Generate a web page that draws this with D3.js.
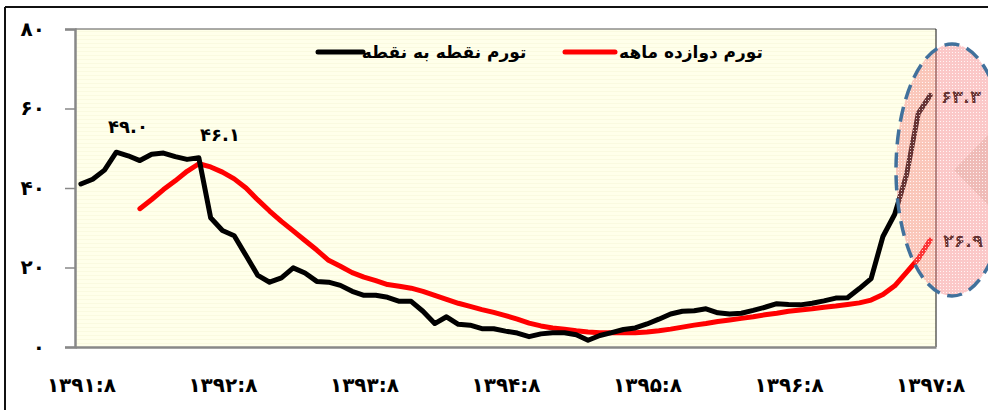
<!DOCTYPE html>
<html><head><meta charset="utf-8">
<script src="https://cdn.jsdelivr.net/npm/d3@7"></script>
<style>body{margin:0;background:#fff}svg{display:block}</style>
</head><body>
<svg id="c" width="988" height="410"></svg>
<script>
const months = [
"1391:8","1391:9","1391:10","1391:11","1391:12",
"1392:1","1392:2","1392:3","1392:4","1392:5","1392:6","1392:7","1392:8","1392:9","1392:10","1392:11","1392:12",
"1393:1","1393:2","1393:3","1393:4","1393:5","1393:6","1393:7","1393:8","1393:9","1393:10","1393:11","1393:12",
"1394:1","1394:2","1394:3","1394:4","1394:5","1394:6","1394:7","1394:8","1394:9","1394:10","1394:11","1394:12",
"1395:1","1395:2","1395:3","1395:4","1395:5","1395:6","1395:7","1395:8","1395:9","1395:10","1395:11","1395:12",
"1396:1","1396:2","1396:3","1396:4","1396:5","1396:6","1396:7","1396:8","1396:9","1396:10","1396:11","1396:12",
"1397:1","1397:2","1397:3","1397:4","1397:5","1397:6","1397:7","1397:8"];
const pointToPoint = [41.0,42.2,44.5,49.0,48.1,46.9,48.5,48.8,47.9,47.2,47.6,32.5,29.3,28.0,23.0,18.0,16.3,17.4,19.9,18.6,16.5,16.3,15.5,14.0,13.0,13.0,12.5,11.5,11.5,9.0,5.9,7.6,5.7,5.5,4.6,4.6,4.0,3.5,2.6,3.3,3.6,3.6,3.1,1.7,2.9,3.6,4.4,4.8,5.8,7.0,8.3,9.0,9.1,9.6,8.6,8.3,8.5,9.2,10.0,10.9,10.7,10.6,11.0,11.6,12.3,12.4,14.7,17.2,27.8,33.4,43.3,58.8,63.3];
const twelveMonth = [null,null,null,null,null,34.8,37.1,39.6,41.8,44.2,46.1,45.3,44.0,42.3,40.0,37.0,34.2,31.6,29.2,26.8,24.4,21.8,20.3,18.7,17.6,16.7,15.7,15.3,14.8,14.0,13.0,12.0,11.0,10.2,9.4,8.7,7.9,7.0,6.0,5.3,4.8,4.5,4.1,3.8,3.6,3.6,3.6,3.6,3.8,4.1,4.5,5.0,5.5,5.9,6.4,6.8,7.2,7.6,8.1,8.5,9.0,9.3,9.6,10.0,10.3,10.7,11.1,11.8,13.2,15.4,18.8,22.2,26.9];
const yTicks = [0,20,40,60,80];
const xTickLabels = ["1391:8","1392:8","1393:8","1394:8","1395:8","1396:8","1397:8"];
const seriesNames = ["تورم نقطه به نقطه","تورم دوازده ماهه"];
const annotations = [
  {idx:3, series:"p", text:"49.0"},
  {idx:10, series:"t", text:"46.1"},
  {idx:72, series:"p", text:"63.3"},
  {idx:72, series:"t", text:"26.9"}
];

const fa = s => String(s).replace(/\d/g, d => "۰۱۲۳۴۵۶۷۸۹"[d]);
const FONT = "'DejaVu Sans', sans-serif";
const svg = d3.select("#c");
const L = 75, R = 936, T = 29, B = 347;
const x = d3.scalePoint().domain(months).range([L, R]).padding(0.5);
const y = d3.scaleLinear().domain([0, 80]).range([B, T]);

const defs = svg.append("defs");
const stripes = defs.append("pattern").attr("id","bg").attr("width",4).attr("height",4).attr("patternUnits","userSpaceOnUse");
stripes.append("rect").attr("width",4).attr("height",4).attr("fill","#FFFFEA");
stripes.append("rect").attr("y",3).attr("width",4).attr("height",1).attr("fill","#FAFAE0");
const dots = defs.append("pattern").attr("id","dots").attr("width",3).attr("height",3).attr("patternUnits","userSpaceOnUse");
dots.append("rect").attr("width",3).attr("height",3).attr("fill","rgba(245,125,125,0.42)");
dots.append("rect").attr("x",1).attr("y",1).attr("width",1).attr("height",1).attr("fill","rgba(255,255,255,0.8)");

// outer frame
svg.append("line").attr("x1",5).attr("x2",988).attr("y1",7).attr("y2",7).attr("stroke","#111").attr("stroke-width",2);
svg.append("line").attr("x1",5).attr("x2",5).attr("y1",7).attr("y2",410).attr("stroke","#111").attr("stroke-width",2);

// plot area
svg.append("rect").attr("x",L).attr("y",T).attr("width",R-L).attr("height",B-T).attr("fill","url(#bg)");
svg.append("line").attr("x1",L).attr("x2",R).attr("y1",T).attr("y2",T).attr("stroke","#555").attr("stroke-width",1);
svg.append("line").attr("x1",R).attr("x2",R).attr("y1",T).attr("y2",B).attr("stroke","#111").attr("stroke-width",1);

// y axis
const yAxis = svg.append("g").attr("transform",`translate(${L},0)`)
  .call(d3.axisLeft(y).tickValues(yTicks).tickSize(10).tickFormat(fa));
yAxis.select(".domain").attr("stroke","#888").attr("stroke-width",2.5);
yAxis.selectAll(".tick line").attr("stroke","#888").attr("stroke-width",1.5);
yAxis.selectAll(".tick text").attr("x",-30).attr("font-family",FONT).attr("font-weight","bold").attr("font-size",20).attr("fill","#000");

// x axis
const xAxis = svg.append("g").attr("transform",`translate(0,${B})`)
  .call(d3.axisBottom(x).tickValues(xTickLabels).tickSize(0).tickPadding(31).tickFormat(fa));
xAxis.select(".domain").attr("stroke","#888").attr("stroke-width",2.5);
xAxis.selectAll(".tick text").attr("font-family",FONT).attr("font-weight","bold").attr("font-size",20).attr("fill","#000");

// lines
const line = d3.line().defined(d => d.v != null).x(d => x(d.m)).y(d => y(d.v));
svg.append("path").datum(months.map((m,i)=>({m, v: twelveMonth[i]})))
  .attr("d", line).attr("fill","none").attr("stroke","#FF0000").attr("stroke-width",5).attr("stroke-linejoin","round").attr("stroke-linecap","round");
svg.append("path").datum(months.map((m,i)=>({m, v: pointToPoint[i]})))
  .attr("d", line).attr("fill","none").attr("stroke","#000").attr("stroke-width",5).attr("stroke-linejoin","round").attr("stroke-linecap","round");

// legend
const legend = [{c:"#000", x1:318, x2:363, tx:444, name:seriesNames[0]},{c:"#FF0000", x1:565, x2:615, tx:691, name:seriesNames[1]}];
legend.forEach(l => {
  svg.append("line").attr("x1",l.x1).attr("x2",l.x2).attr("y1",52).attr("y2",52).attr("stroke",l.c).attr("stroke-width",5).attr("stroke-linecap","round");
  svg.append("text").attr("x",l.tx).attr("y",58).attr("text-anchor","middle").attr("font-family",FONT).attr("font-weight","bold").attr("font-size",17).text(l.name);
});

// annotations
const annPos = [[128,133],[220,141],[961,103],[963,247]];
annotations.forEach((a,k) => {
  svg.append("text").attr("x",annPos[k][0]).attr("y",annPos[k][1]).attr("text-anchor","middle")
    .attr("font-family",FONT).attr("font-weight","bold").attr("font-size",18).attr("fill","#000").text(fa(a.text));
});

// highlight ellipse
svg.append("polygon").attr("points","954,170 988,135 1022,170 988,205").attr("fill","rgba(190,180,160,0.3)");
svg.append("ellipse").attr("cx",952).attr("cy",170).attr("rx",56).attr("ry",126)
  .attr("fill","url(#dots)").attr("stroke","#41719C").attr("stroke-width",3.5).attr("stroke-dasharray","15,8");
</script>
</body></html>
